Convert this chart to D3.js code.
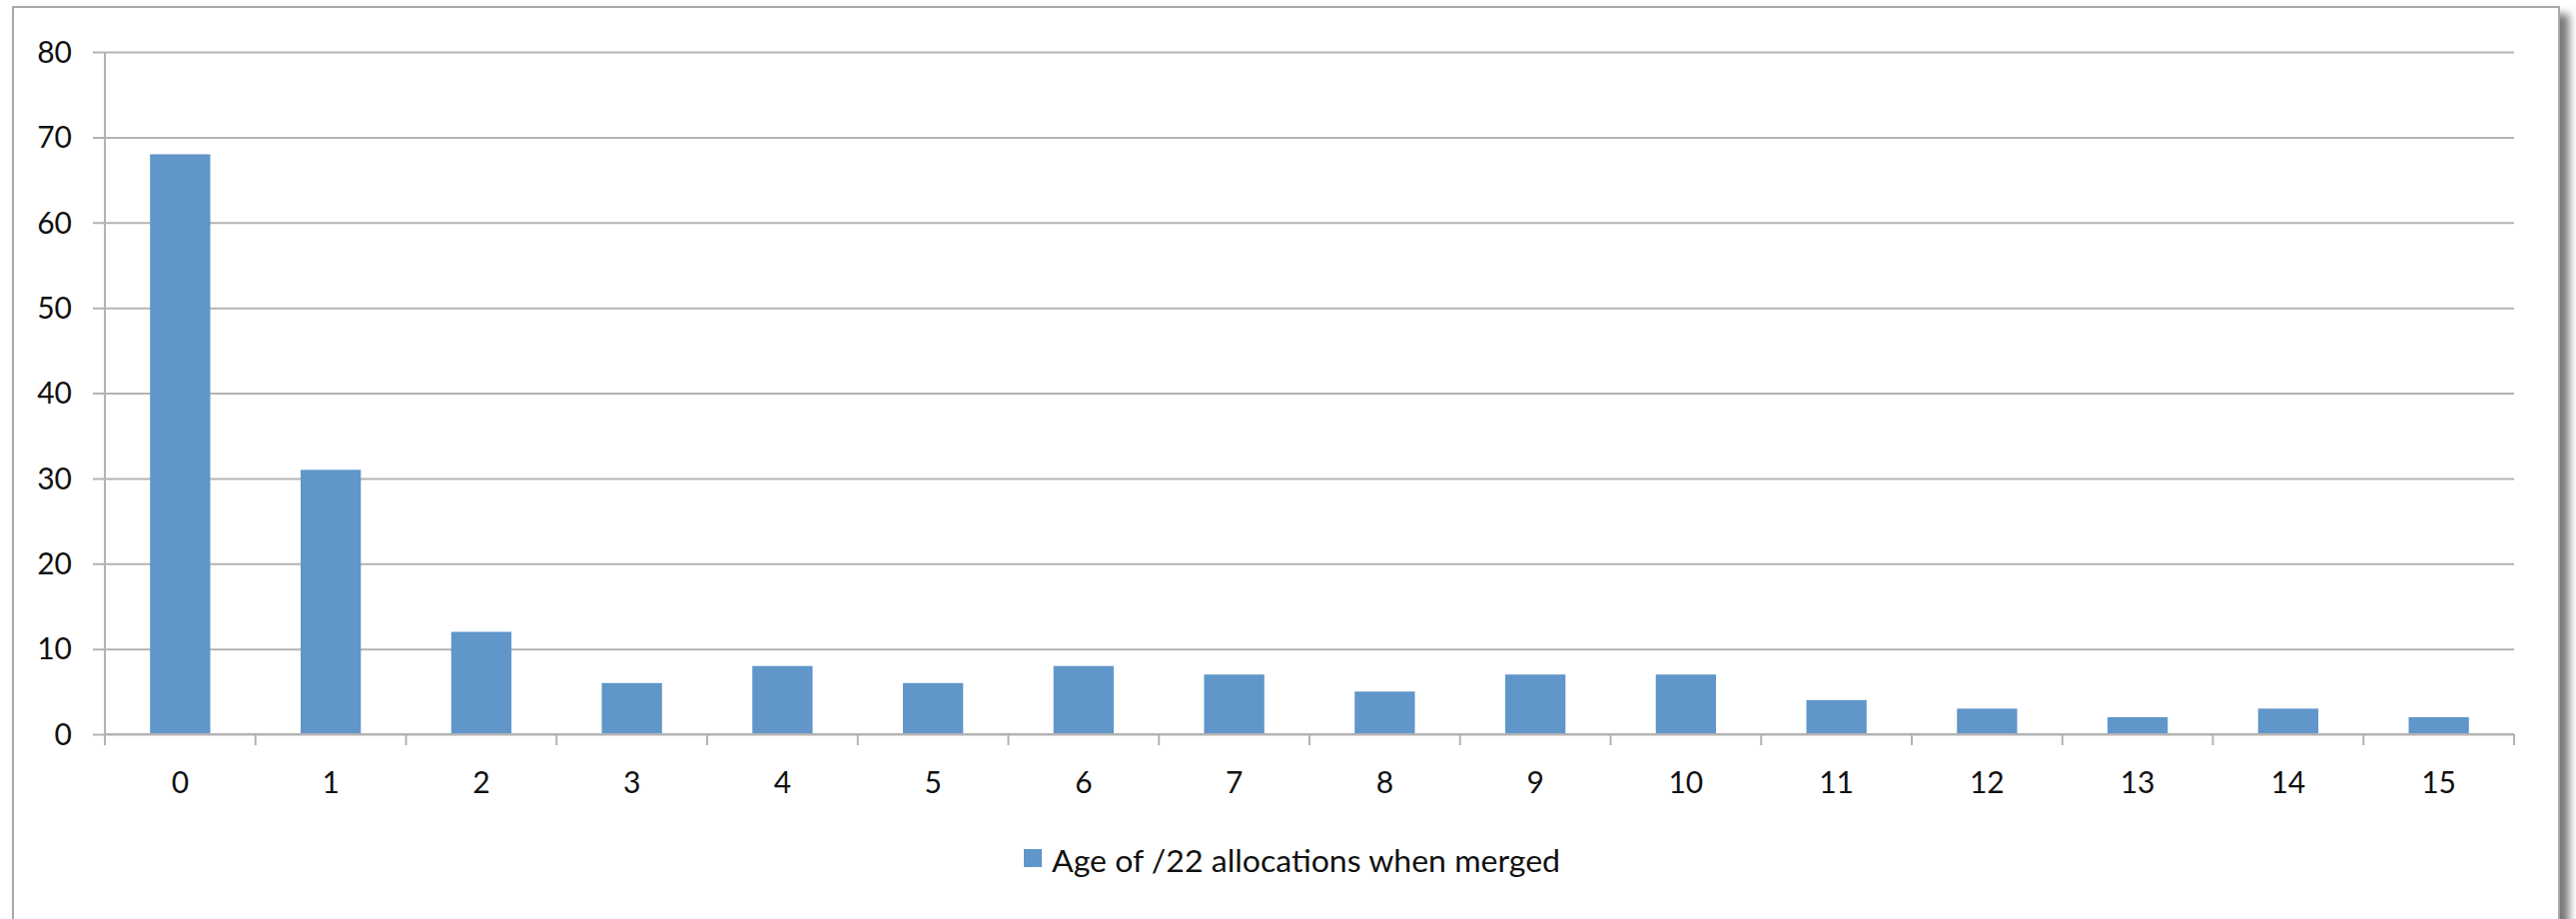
<!DOCTYPE html>
<html>
<head>
<meta charset="utf-8">
<script src="https://cdn.jsdelivr.net/npm/d3@7"></script>
<style>
    body { margin: 0; background: #fff; }
    svg { display: block; }
    .tick-label { font-family: Lato, 'Open Sans', sans-serif; font-size: 30px; fill: #111; }
</style>
</head>
<body>
<div id="chart"></div>
<script>
const categories = ['0', '1', '2', '3', '4', '5', '6', '7', '8', '9', '10', '11', '12', '13', '14', '15']
const values = [68, 31, 12, 6, 8, 6, 8, 7, 5, 7, 7, 4, 3, 2, 3, 2]
const yTicks = [0, 10, 20, 30, 40, 50, 60, 70, 80]
const seriesName = 'Age of /22 allocations when merged'

const DIMENSIONS = {
    width: 2579,
    height: 920,
    margin_left: 105,
    margin_top: 52,
    plot_right: 2517,
    plot_bottom: 735
}

const svg = d3.select('#chart').append('svg')
    .attr('width', DIMENSIONS.width)
    .attr('height', DIMENSIONS.height)

// drop shadow + frame
const defs = svg.append('defs')
defs.append('filter').attr('id', 'blur')
    .attr('x', '-5%').attr('y', '-5%').attr('width', '110%').attr('height', '110%')
    .append('feGaussianBlur').attr('stdDeviation', 4)

svg.append('rect')
    .attr('x', 20).attr('y', 14)
    .attr('width', 2552).attr('height', 940)
    .attr('fill', '#777')
    .attr('filter', 'url(#blur)')

svg.append('rect')
    .attr('x', 13).attr('y', 7)
    .attr('width', 2549).attr('height', 940)
    .attr('fill', '#fff')
    .attr('stroke', '#a8a8a8')
    .attr('stroke-width', 2)

const xScale = d3.scaleBand()
    .domain(categories)
    .range([DIMENSIONS.margin_left, DIMENSIONS.plot_right])
    .paddingInner(0.6)
    .paddingOuter(0.3)

const step = xScale.step()
const xStart = xScale(categories[0]) - step * 0.3

const yScale = d3.scaleLinear()
    .domain([0, 80])
    .range([DIMENSIONS.plot_bottom, DIMENSIONS.margin_top])

// gridlines
const yAxis = d3.axisLeft(yScale)
    .tickValues(yTicks)
    .tickSize(-(DIMENSIONS.plot_right - DIMENSIONS.margin_left))
    .tickFormat('')

svg.append('g')
    .attr('class', 'grid')
    .attr('transform', `translate(${DIMENSIONS.margin_left}, 0)`)
    .call(yAxis)
    .call(g => g.select('.domain').remove())
    .call(g => g.selectAll('line')
        .attr('x1', -12)
        .attr('stroke', '#b3b3b3')
        .attr('stroke-width', 2))

// y labels
svg.append('g')
    .selectAll('text')
    .data(yTicks)
    .join('text')
    .attr('class', 'tick-label')
    .attr('x', 72)
    .attr('y', d => yScale(d))
    .attr('dy', '0.36em')
    .attr('text-anchor', 'end')
    .text(d => d)

// y axis line
svg.append('line')
    .attr('x1', DIMENSIONS.margin_left).attr('x2', DIMENSIONS.margin_left)
    .attr('y1', DIMENSIONS.margin_top).attr('y2', DIMENSIONS.plot_bottom + 10)
    .attr('stroke', '#b3b3b3')
    .attr('stroke-width', 2)

// bars
svg.append('g')
    .selectAll('rect')
    .data(values)
    .join('rect')
    .attr('x', (d, i) => xScale(categories[i]))
    .attr('y', d => yScale(d))
    .attr('width', xScale.bandwidth())
    .attr('height', d => yScale(0) - yScale(d))
    .attr('fill', '#6096c9')

// x axis line and ticks between categories
const xAxisG = svg.append('g')
xAxisG.append('line')
    .attr('x1', DIMENSIONS.margin_left).attr('x2', DIMENSIONS.plot_right)
    .attr('y1', yScale(0)).attr('y2', yScale(0))
    .attr('stroke', '#b3b3b3')
    .attr('stroke-width', 2)

xAxisG.selectAll('.xtick')
    .data(d3.range(categories.length + 1))
    .join('line')
    .attr('class', 'xtick')
    .attr('x1', i => xStart + i * step)
    .attr('x2', i => xStart + i * step)
    .attr('y1', yScale(0))
    .attr('y2', yScale(0) + 11)
    .attr('stroke', '#b3b3b3')
    .attr('stroke-width', 2)

xAxisG.selectAll('.xlabel')
    .data(categories)
    .join('text')
    .attr('class', 'tick-label')
    .attr('x', d => xScale(d) + xScale.bandwidth() / 2)
    .attr('y', 794)
    .attr('text-anchor', 'middle')
    .text(d => d)

// legend
const legend = svg.append('g')
legend.append('rect')
    .attr('x', 1025).attr('y', 850)
    .attr('width', 18).attr('height', 18)
    .attr('fill', '#6096c9')
legend.append('text')
    .attr('class', 'tick-label')
    .attr('x', 1053)
    .attr('y', 873)
    .attr('textLength', 509)
    .attr('lengthAdjust', 'spacingAndGlyphs')
    .text(seriesName)
</script>
</body>
</html>
